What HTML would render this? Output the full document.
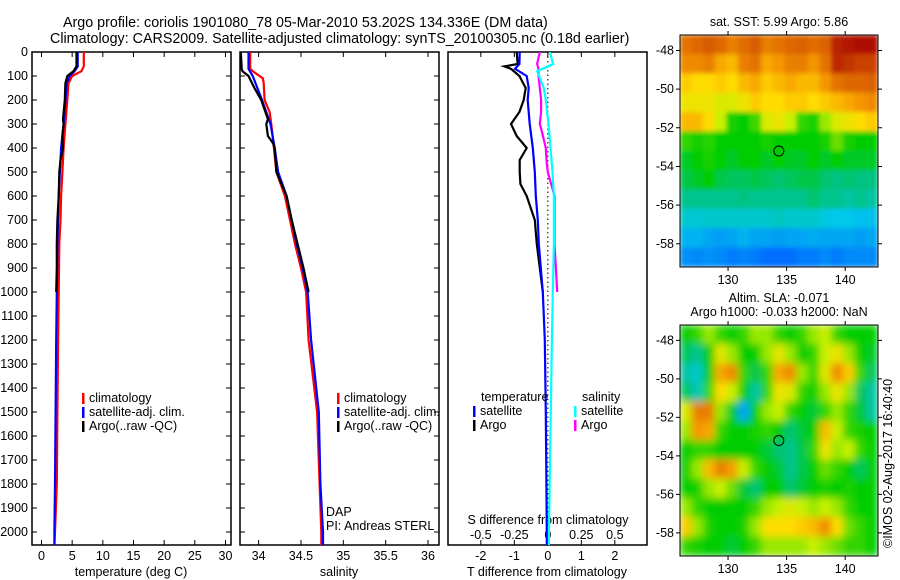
<!DOCTYPE html>
<html><head><meta charset="utf-8">
<style>
body{margin:0;background:#fff;}
svg{display:block;font-family:"Liberation Sans",sans-serif;}
text{fill:#000;}
</style></head>
<body>
<svg id="fig" width="900" height="580" viewBox="0 0 900 580" xmlns="http://www.w3.org/2000/svg">
<defs>
<clipPath id="c1"><rect x="32" y="52" width="199" height="493"/></clipPath>
<clipPath id="c2"><rect x="240" y="52" width="199" height="493"/></clipPath>
<clipPath id="c3"><rect x="448" y="52" width="199" height="493"/></clipPath>
<clipPath id="cm1"><rect x="680" y="35" width="198" height="232"/></clipPath>
<clipPath id="cm2"><rect x="680" y="325" width="198" height="231"/></clipPath>
<filter id="b1" x="0" y="0" width="1" height="1"><feGaussianBlur stdDeviation="2.5" edgeMode="duplicate"/></filter>
<filter id="b2" x="0" y="0" width="1" height="1"><feGaussianBlur stdDeviation="4" edgeMode="duplicate"/></filter>
</defs>
<text x="63" y="27" font-size="14.3">Argo profile: coriolis 1901080_78 05-Mar-2010 53.202S 134.336E (DM data)</text>
<text x="50" y="43" font-size="14.3">Climatology: CARS2009. Satellite-adjusted climatology: synTS_20100305.nc (0.18d earlier)</text>
<g id="g1"></g>
<g id="g2"></g>
<g id="g3"></g>
<g id="m1"></g>
<g id="m2"></g>
<text x="779" y="26" font-size="12.5" text-anchor="middle">sat. SST: 5.99 Argo: 5.86</text>
<text x="779" y="302" font-size="12.5" text-anchor="middle">Altim. SLA: -0.071</text>
<text x="779" y="316" font-size="12.5" text-anchor="middle">Argo h1000: -0.033 h2000: NaN</text>
<text x="0" y="0" font-size="12.5" transform="translate(892,548) rotate(-90)">©IMOS 02-Aug-2017 16:40:40</text>
</svg>
<script>
// ---- data ----
const depthTicks=[0,100,200,300,400,500,600,700,800,900,1000,1100,1200,1300,1400,1500,1600,1700,1800,1900,2000];
const tempTicks=[0,5,10,15,20,25,30];
const salTicks=[34,34.5,35,35.5,36];
const salTickLabels=["34","34.5","35","35.5","36"];
const tdTicks=[-2,-1,0,1,2];
const sdTicks=[-0.5,-0.25,0,0.25,0.5];
const sdTickLabels=["-0.5","-0.25","0","0.25","0.5"];

const tClimD=[0,60,80,100,130,200,300,400,500,600,700,800,1000,1200,1500,1800,2000,2060];
const tClimV=[6.9,6.9,6.5,5.0,4.4,4.2,3.9,3.6,3.4,3.2,3.1,2.9,2.8,2.7,2.6,2.5,2.2,2.1];
const tSatD=[0,60,80,100,130,200,300,400,500,600,700,800,1000,1200,1500,1800,2000,2060];
const tSatV=[5.9,5.9,5.4,4.6,4.1,3.9,3.6,3.2,3.0,2.8,2.7,2.6,2.5,2.4,2.3,2.2,2.1,2.1];
const tArgD=[0,60,80,100,130,200,280,300,350,400,450,500,600,700,800,900,1000];
const tArgV=[5.7,5.7,5.2,4.2,3.9,3.8,3.5,3.6,3.4,3.5,3.1,2.9,2.8,2.6,2.5,2.5,2.4];

const sClimD=[0,70,80,110,130,200,250,300,400,500,600,700,800,900,1000,1200,1500,1800,2000,2060];
const sClimV=[33.9,33.9,33.93,34.05,34.06,34.07,34.13,34.15,34.18,34.21,34.31,34.37,34.43,34.5,34.56,34.59,34.69,34.72,34.74,34.74];
const sSatD=[0,70,100,200,300,400,500,600,700,800,900,1000,1200,1500,1800,2000,2060];
const sSatV=[33.88,33.88,33.93,34.04,34.14,34.19,34.23,34.33,34.39,34.45,34.52,34.58,34.62,34.71,34.73,34.76,34.76];
const sArgD=[0,70,80,100,150,200,280,300,350,380,400,500,600,700,800,900,1000];
const sArgV=[33.79,33.8,33.81,33.88,33.95,34.03,34.11,34.09,34.11,34.17,34.19,34.21,34.33,34.39,34.46,34.53,34.59];

const dTArgD=[0,50,60,70,100,150,200,250,300,350,400,450,500,550,600,700,800,900,1000];
const dTArgV=[-0.93,-0.9,-1.3,-1.1,-0.85,-0.66,-0.72,-0.85,-1.1,-0.93,-0.63,-0.84,-0.84,-0.82,-0.63,-0.39,-0.33,-0.24,-0.15];
const dTSatD=[0,50,70,100,150,200,300,400,500,600,700,800,1000,1200,1500,2000,2060];
const dTSatV=[-0.84,-0.85,-0.98,-0.63,-0.57,-0.6,-0.54,-0.45,-0.39,-0.36,-0.3,-0.27,-0.15,-0.09,-0.06,-0.03,-0.03];
const dSArgD=[0,50,70,100,150,200,250,300,330,400,450,500,600,700,800,900,1000];
const dSArgV=[-0.06,-0.08,-0.07,-0.07,-0.06,-0.05,-0.05,-0.06,-0.045,-0.015,-0.01,0.0,0.05,0.05,0.05,0.06,0.07];
const dSSatD=[0,50,80,100,150,200,300,400,500,600,800,1000,1200,1500,2000,2060];
const dSSatV=[0.015,0.04,-0.08,-0.065,-0.03,-0.015,0.005,0.02,0.035,0.045,0.045,0.037,0.03,0.022,0.008,0.008];

const sstGrid=[
[.82,.84,.86,.84,.8,.83,.86,.8,.82,.84,.85,.83,.85,.95,.97,.98,.98],
[.78,.78,.8,.74,.72,.8,.82,.74,.76,.8,.8,.76,.82,.94,.92,.9,.9],
[.7,.68,.68,.7,.68,.72,.74,.7,.72,.74,.72,.72,.76,.82,.84,.84,.85],
[.66,.66,.66,.64,.64,.66,.7,.68,.68,.7,.7,.68,.7,.72,.74,.76,.78],
[.72,.72,.68,.62,.52,.5,.56,.64,.66,.62,.55,.52,.6,.64,.66,.68,.7],
[.55,.52,.54,.5,.5,.5,.5,.52,.5,.5,.5,.5,.52,.58,.52,.5,.5],
[.48,.5,.52,.5,.48,.5,.5,.48,.5,.48,.48,.5,.48,.5,.48,.48,.48],
[.46,.48,.5,.46,.45,.45,.46,.45,.44,.45,.46,.46,.44,.43,.44,.43,.43],
[.42,.42,.42,.42,.42,.43,.42,.42,.42,.42,.42,.44,.42,.42,.4,.42,.4],
[.36,.35,.36,.36,.36,.36,.36,.36,.37,.36,.36,.36,.34,.33,.33,.32,.32],
[.3,.3,.28,.27,.28,.3,.28,.28,.27,.28,.28,.29,.28,.28,.28,.27,.28],
[.25,.24,.25,.24,.22,.23,.22,.2,.2,.2,.22,.22,.24,.22,.24,.24,.24]];
const slaGrid=[
[.5,.55,.6,.55,.5,.55,.6,.6,.55,.5,.55,.6,.62,.55,.5,.5,.5],
[.45,.42,.5,.65,.6,.5,.5,.6,.65,.6,.5,.55,.62,.66,.6,.5,.48],
[.4,.36,.5,.74,.78,.55,.46,.55,.74,.78,.6,.55,.65,.78,.7,.55,.45],
[.45,.38,.55,.68,.62,.5,.4,.55,.66,.64,.55,.5,.6,.66,.6,.45,.4],
[.64,.8,.8,.6,.48,.28,.5,.6,.62,.55,.5,.47,.55,.6,.55,.47,.4],
[.6,.76,.74,.55,.5,.5,.52,.55,.5,.44,.47,.5,.72,.62,.55,.52,.5],
[.5,.55,.55,.5,.5,.5,.5,.47,.44,.42,.46,.55,.66,.6,.62,.55,.5],
[.5,.6,.72,.8,.75,.62,.55,.5,.47,.42,.46,.5,.58,.55,.5,.45,.5],
[.5,.52,.6,.62,.58,.47,.44,.5,.5,.44,.47,.5,.52,.5,.52,.5,.5],
[.6,.55,.5,.5,.5,.5,.55,.6,.62,.64,.62,.6,.62,.6,.55,.5,.5],
[.7,.6,.52,.5,.5,.52,.6,.68,.68,.68,.7,.72,.78,.68,.58,.55,.5],
[.55,.52,.5,.5,.47,.5,.55,.6,.6,.6,.6,.62,.6,.58,.55,.55,.5]];
const lonTicks=[130,135,140];
const latTicks=[-48,-50,-52,-54,-56,-58];
const argoLon=134.336, argoLat=-53.202;

// ---- helpers ----
const NS="http://www.w3.org/2000/svg";
function mk(parent,tag,attrs){const e=document.createElementNS(NS,tag);for(const k in attrs)e.setAttribute(k,attrs[k]);parent.appendChild(e);return e;}
const PT=52,PB=545,PH=PB-PT;
const yD=d=>PT+d*0.24;
function lin(d0,d1,r0,r1){return v=>r0+(v-d0)*(r1-r0)/(d1-d0);}
const panels=[{g:'g1',x0:32,x1:231,dom:[-1.55,30.9]},{g:'g2',x0:240,x1:439,dom:[33.78,36.13]},{g:'g3',x0:448,x1:647,dom:[-2.98,2.96]}];
panels.forEach(p=>p.sx=lin(p.dom[0],p.dom[1],p.x0,p.x1));
const sxS=lin(-0.745,0.74,448,647);

function frame(p,ytick){
  const g=document.getElementById(p.g);
  const r=mk(g,'rect',{x:p.x0,y:PT,width:p.x1-p.x0,height:PH,fill:'none',stroke:'#000','stroke-width':1.5});
  
  
  if(ytick){depthTicks.forEach(d=>{
    const t=mk(g,'path',{d:`M${p.x0},${yD(d)}h5M${p.x1},${yD(d)}h-5`,stroke:'#000','stroke-width':1});
    
    
  });}
  return g;
}
function line(g,clip,xs,ds,vs,col,name){
  const pts=ds.map((d,i)=>xs(vs[i]).toFixed(1)+','+yD(d).toFixed(1)).join(' ');
  const l=mk(g,'polyline',{points:pts,fill:'none',stroke:col,'stroke-width':2.2,'clip-path':`url(#${clip})`});
  
  
}
function xticks(g,p,ticks,labels,sx,ly,top){
  ticks.forEach((t,i)=>{
    const x=sx(t);
    const tk=mk(g,'path',{d:(top?`M${x},${PT}v5`:'')+`M${x},${PB}v-5`,stroke:'#000','stroke-width':1});
    
    
    const tx=mk(g,'text',{x:x,y:ly,'font-size':12.5,'text-anchor':'middle'});
    tx.textContent=labels?labels[i]:String(t);
    
    
  });
}
function txt(g,x,y,s,name,size){const t=mk(g,'text',{x:x,y:y,'font-size':size||12.5});t.textContent=s;return t;}
function legend(g,x,y,col,label,name){
  const b=mk(g,'rect',{x:x,y:y-9,width:2.5,height:11,fill:col});
  
  
  txt(g,x+7,y,label,name);
}

// panel 1
let p=panels[0],g=frame(p,true);
depthTicks.forEach(d=>{const t=mk(g,'text',{x:28,y:yD(d)+4,'font-size':12.5,'text-anchor':'end'});t.textContent=d;});
xticks(g,p,tempTicks,null,p.sx,560,true);
txt(g,131,576,'temperature (deg C)','x-axis-title-temperature').setAttribute('text-anchor','middle');
line(g,'c1',p.sx,tClimD,tClimV,'#f00','temp-climatology-line');
line(g,'c1',p.sx,tSatD,tSatV,'#00f','temp-satellite-line');
line(g,'c1',p.sx,tArgD,tArgV,'#000','temp-argo-line');
legend(g,82,402,'#f00','climatology','legend-climatology');
legend(g,82,416,'#00f','satellite-adj. clim.','legend-satellite');
legend(g,82,430,'#000','Argo(..raw -QC)','legend-argo');

// panel 2
p=panels[1];g=frame(p,true);
xticks(g,p,salTicks,salTickLabels,p.sx,560,true);
txt(g,339,576,'salinity','x-axis-title-salinity').setAttribute('text-anchor','middle');
line(g,'c2',p.sx,sClimD,sClimV,'#f00','sal-climatology-line');
line(g,'c2',p.sx,sSatD,sSatV,'#00f','sal-satellite-line');
line(g,'c2',p.sx,sArgD,sArgV,'#000','sal-argo-line');
legend(g,337,402,'#f00','climatology','legend-climatology');
legend(g,337,416,'#00f','satellite-adj. clim.','legend-satellite');
legend(g,337,430,'#000','Argo(..raw -QC)','legend-argo');
txt(g,326,516,'DAP','dap-label');
txt(g,326,530,'PI: Andreas STERL','pi-label');

// panel 3
p=panels[2];g=frame(p,false);
tdTicks.forEach(t=>{const tk=mk(g,'path',{d:`M${p.sx(t)},${PT}v5`,stroke:'#000'});});
xticks(g,p,tdTicks,null,p.sx,560,false);
sdTicks.forEach((t,i)=>{const tx=mk(g,'text',{x:sxS(t),y:539,'font-size':12.5,'text-anchor':'middle'});tx.textContent=sdTickLabels[i];});
txt(g,548,524,'S difference from climatology','s-diff-axis-title').setAttribute('text-anchor','middle');
txt(g,547,576,'T difference from climatology','t-diff-axis-title').setAttribute('text-anchor','middle');
const z=mk(g,'line',{x1:p.sx(0),x2:p.sx(0),y1:PT,y2:PB,stroke:'#000','stroke-width':1,'stroke-dasharray':'1.5,3'});


line(g,'c3',p.sx,dTArgD,dTArgV,'#000','tdiff-argo-line');
line(g,'c3',p.sx,dTSatD,dTSatV,'#00f','tdiff-satellite-line');
line(g,'c3',sxS,dSArgD,dSArgV,'#f0f','sdiff-argo-line');
line(g,'c3',sxS,dSSatD,dSSatV,'#0ff','sdiff-satellite-line');
txt(g,481,401,'temperature','legend-temperature-heading');
legend(g,473,415,'#00f','satellite','legend-t-satellite');
legend(g,473,429,'#000','Argo','legend-t-argo');
txt(g,582,401,'salinity','legend-salinity-heading');
legend(g,574,415,'#0ff','satellite','legend-s-satellite');
legend(g,574,429,'#f0f','Argo','legend-s-argo');

// maps
const stops=[[0,0,0,190],[.2,0,110,255],[.33,0,200,235],[.43,0,195,130],[.5,0,205,0],[.56,60,215,0],[.62,200,240,0],[.68,255,220,0],[.76,245,150,0],[.88,210,80,0],[1,165,0,0]];
function cmap(v){for(let i=1;i<stops.length;i++){if(v<=stops[i][0]){const a=stops[i-1],b=stops[i],t=(v-a[0])/(b[0]-a[0]);return `rgb(${[1,2,3].map(k=>Math.round(a[k]+t*(b[k]-a[k]))).join(',')})`;}}return 'rgb(165,0,0)';}
const LON0=125.9,LON1=142.8,LAT0=-47.2,LAT1=-59.2;
function drawMap(id,clip,grid,top,bot,filt){
  const g=document.getElementById(id);
  const sx=lin(LON0,LON1,680,878), sy=lin(LAT0,LAT1,top,bot);
  const rows=grid.length, cols=grid[0].length;
  const cw=(LON1-LON0)/cols, rh=(LAT0-LAT1)/rows;
  const cg=mk(g,'g',{'clip-path':`url(#${clip})`});
  const fg=mk(cg,'g',{filter:`url(#${filt})`});
  grid.forEach((row,r)=>row.forEach((v,c)=>{
    const x=sx(LON0+c*cw), y=sy(LAT0-r*rh);
    const cell=mk(fg,'rect',{x:x-0.3,y:y-0.3,width:sx(LON0+(c+1)*cw)-x+0.6,height:sy(LAT0-(r+1)*rh)-y+0.6,fill:cmap(v)});
    
    
  }));
  const fr=mk(g,'rect',{x:680,y:top,width:198,height:bot-top,fill:'none',stroke:'#000','stroke-width':1});
  
  
  lonTicks.forEach(l=>{
    const tk=mk(g,'path',{d:`M${sx(l)},${top}v-4M${sx(l)},${bot}v4`,stroke:'#000'});
    
    
    const t=mk(g,'text',{x:sx(l),y:bot+17,'font-size':12.5,'text-anchor':'middle'});t.textContent=l;
    
    
  });
  latTicks.forEach(l=>{
    const tk=mk(g,'path',{d:`M680,${sy(l)}h-4M878,${sy(l)}h4`,stroke:'#000'});
    
    
    const t=mk(g,'text',{x:674,y:sy(l)+4,'font-size':12.5,'text-anchor':'end'});t.textContent=l;
    
    
  });
  const c=mk(g,'circle',{cx:sx(argoLon),cy:sy(argoLat),r:5,fill:'none',stroke:'#000','stroke-width':1});
  
  
}
drawMap('m1','cm1',sstGrid,35,267,'b1');
drawMap('m2','cm2',slaGrid,325,556,'b2');
</script>
</body></html>
